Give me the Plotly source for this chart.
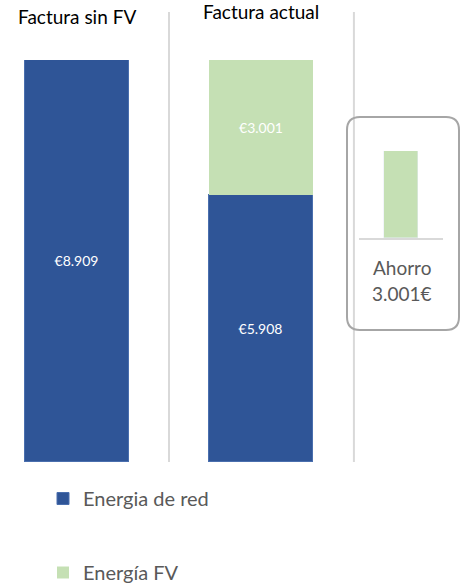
import plotly.graph_objects as go

categories = ["Factura sin FV", "Factura actual"]
red_values = [8909, 5908]
fv_values = [None, 3001]
red_labels = ["€8.909", "€5.908"]
fv_labels = ["", "€3.001"]
saving_value = [3001]
saving_lines = ["Ahorro", "3.001€"]
series_names = ["Energia de red", "Energía FV"]

BLUE = "#2F5597"
GREEN = "#C5E0B4"
GRID = "#D9D9D9"
TXT = "#595959"
FONT = "Lato"

W, H = 464, 584
T, B = 60, 122
PH = H - T - B

def px_x(px):
    return px / W

def px_y(py):
    return (H - B - py) / PH

fig = go.Figure()
fig.add_trace(go.Bar(
    x=[0, 1], y=red_values, name=series_names[0], marker_color=BLUE,
    marker_line=dict(color="#4A6FAE", width=1),
    text=red_labels, textposition="inside", insidetextanchor="middle",
    textfont=dict(color="white", size=14, family=FONT),
    width=0.565, legendgroup="a", hoverinfo="skip"))
fig.add_trace(go.Bar(
    x=[0, 1], y=fv_values, name=series_names[1], marker_color=GREEN,
    marker_line=dict(color=GREEN, width=0),
    text=fv_labels, textposition="inside", insidetextanchor="middle",
    textfont=dict(color="white", size=14, family=FONT),
    width=0.565, legendgroup="b", hoverinfo="skip"))
fig.add_trace(go.Bar(
    x=[0], y=saving_value, marker_color=GREEN, width=0.405,
    xaxis="x2", yaxis="y2", showlegend=False, hoverinfo="skip"))

shapes = []
for xv in [0.5, 1.505]:
    shapes.append(dict(type="line", xref="x", yref="paper", x0=xv, x1=xv,
                       y0=0, y1=px_y(12), line=dict(color=GRID, width=2)))

x0, x1 = px_x(347), px_x(459)
y0, y1 = px_y(330), px_y(117)
rx, ry = 13 / W, 13 / PH
path = (f"M {x0+rx},{y1} L {x1-rx},{y1} Q {x1},{y1} {x1},{y1-ry} "
        f"L {x1},{y0+ry} Q {x1},{y0} {x1-rx},{y0} L {x0+rx},{y0} "
        f"Q {x0},{y0} {x0},{y0+ry} L {x0},{y1-ry} Q {x0},{y1} {x0+rx},{y1} Z")
shapes.append(dict(type="path", xref="paper", yref="paper", path=path,
                   line=dict(color="#A6A6A6", width=2)))

def ann(text, x, xref, y, size, color):
    return dict(text=text, x=x, xref=xref, y=y, yref="paper", showarrow=False,
                xanchor="center", yanchor="middle",
                font=dict(size=size, color=color, family=FONT))

annotations = [
    ann(categories[0], 0, "x", px_y(16), 19, "black"),
    ann(categories[1], 1, "x", px_y(11), 19, "black"),
    ann(saving_lines[0], px_x(402), "paper", px_y(267), 19, TXT),
    ann(saving_lines[1], px_x(402), "paper", px_y(293), 19, TXT),
]

fig.update_layout(
    width=W, height=H, margin=dict(l=0, r=0, t=T, b=B, autoexpand=False),
    paper_bgcolor="white", plot_bgcolor="white",
    barmode="stack", bargap=0,
    xaxis=dict(range=[-77 / 184, (W - 77) / 184], showgrid=False, zeroline=False,
               showticklabels=False, showline=False, domain=[0, 1]),
    yaxis=dict(range=[0, 8909], showgrid=False, zeroline=False,
               showticklabels=False, showline=False),
    xaxis2=dict(domain=[px_x(359), px_x(443)], range=[-0.5, 0.5], anchor="y2",
                showgrid=False, zeroline=False, showticklabels=False,
                showline=True, linecolor=GRID, linewidth=2),
    yaxis2=dict(domain=[px_y(238), px_y(151)], range=[0, 3001], anchor="x2",
                showgrid=False, zeroline=False, showticklabels=False, showline=False),
    shapes=shapes, annotations=annotations,
    legend=dict(x=px_x(43), y=px_y(479), xanchor="left", yanchor="top",
                orientation="v", traceorder="grouped", tracegroupgap=45,
                font=dict(size=20, color=TXT, family=FONT), itemwidth=30,
                bgcolor="rgba(0,0,0,0)"),
    font=dict(family=FONT),
)

fig.write_html("out.html", config={"displayModeBar": False},
               post_script="document.body.style.margin='0';document.body.style.overflow='hidden';")
